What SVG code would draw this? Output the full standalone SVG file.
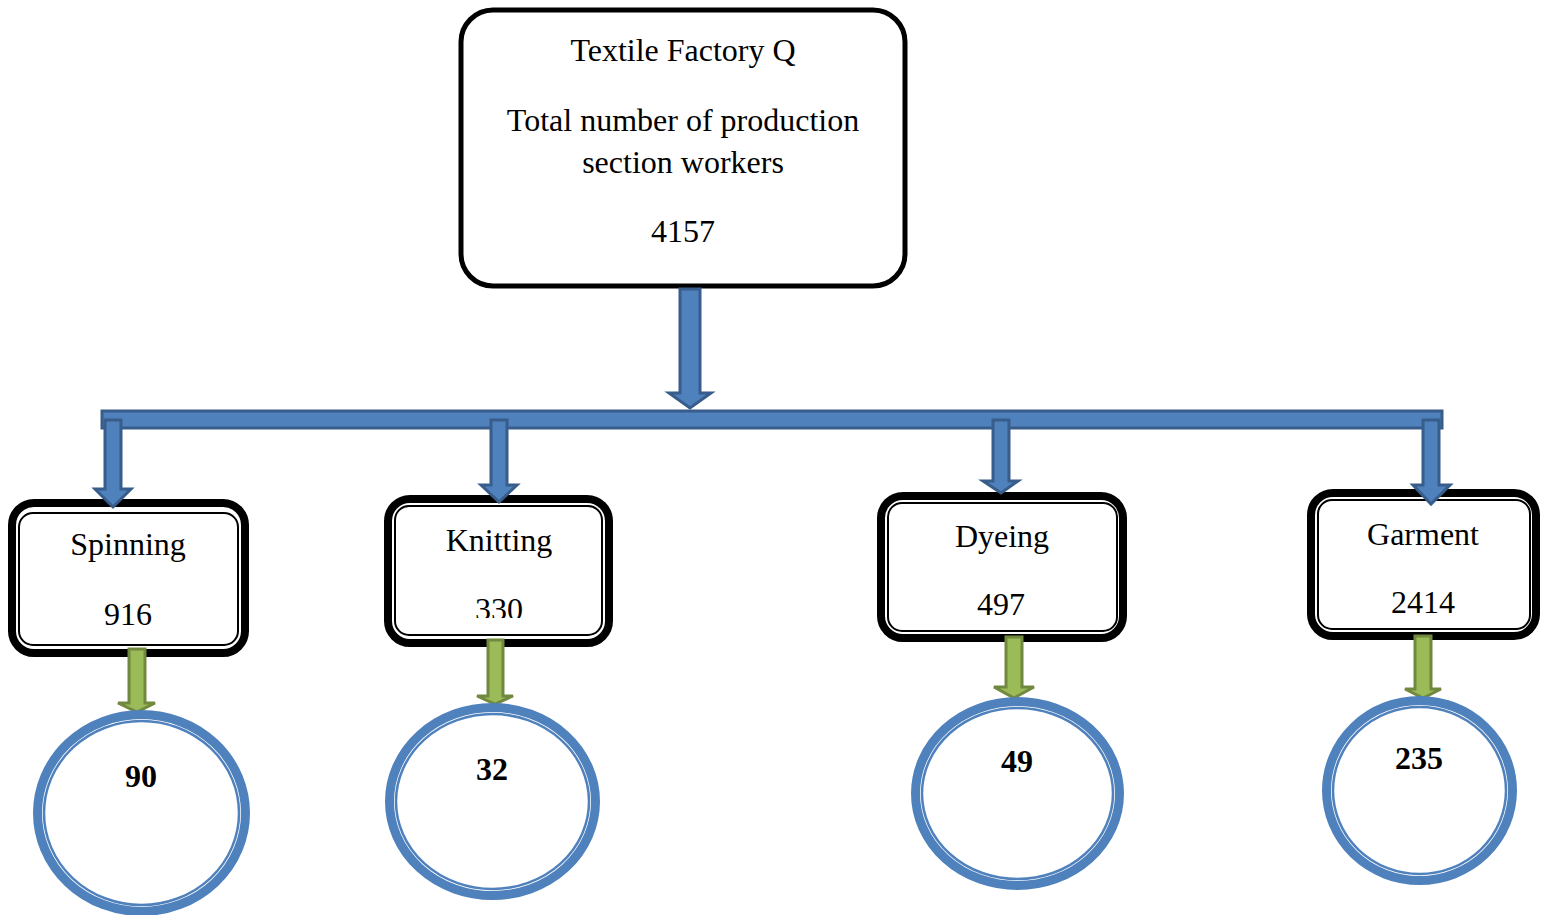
<svg xmlns="http://www.w3.org/2000/svg" width="1545" height="915" viewBox="0 0 1545 915">
<style>
text{font-family:"Liberation Serif","Times New Roman",serif;fill:#000;text-anchor:middle}
.t{font-size:32px}
.b{font-size:32px;font-weight:bold}
.outer{fill:#fff;stroke:#000;stroke-width:8}
.inner{fill:none;stroke:#000;stroke-width:2}
.blue{fill:#4F81BD;stroke:#385D8A;stroke-width:3;stroke-linejoin:miter}
.green{fill:#9BBB59;stroke:#71893F;stroke-width:3}
.ring{fill:#fff;stroke:#4F81BD;stroke-width:9}
.ring2{fill:none;stroke:#4F81BD;stroke-width:2.5}
</style>
<defs>
<clipPath id="clipK"><rect x="390" y="500" width="220" height="118"/></clipPath>
</defs>
<rect width="1545" height="915" fill="#fff"/>

<g id="top">
<rect x="461" y="10" width="444" height="276" rx="32" fill="#fff" stroke="#000" stroke-width="5"/>
<text class="t" x="683" y="61">Textile Factory Q</text>
<text class="t" x="683" y="131">Total number of production</text>
<text class="t" x="683" y="173">section workers</text>
<text class="t" x="683" y="242">4157</text>
</g>

<g id="spinning">
<rect class="outer" x="12" y="503" width="233" height="150" rx="22"/>
<rect class="inner" x="19" y="513" width="219" height="132" rx="14"/>
<text class="t" x="128" y="555">Spinning</text>
<text class="t" x="128" y="625">916</text>
</g>

<g id="knitting">
<rect class="outer" x="388" y="499" width="221" height="144" rx="22"/>
<rect class="inner" x="395" y="506" width="207" height="129" rx="14"/>
<text class="t" x="499" y="551">Knitting</text>
<text class="t" x="499" y="620" clip-path="url(#clipK)">330</text>
</g>

<g id="dyeing">
<rect class="outer" x="881" y="496" width="242" height="142" rx="22"/>
<rect class="inner" x="888" y="503" width="229" height="128" rx="14"/>
<text class="t" x="1002" y="547">Dyeing</text>
<text class="t" x="1001" y="615">497</text>
</g>

<g id="garment">
<rect class="outer" x="1311" y="493" width="225" height="143" rx="22"/>
<rect class="inner" x="1318" y="500" width="212" height="129" rx="14"/>
<text class="t" x="1423" y="545">Garment</text>
<text class="t" x="1423" y="613">2414</text>
</g>

<g id="connectors">
<rect class="blue" x="102" y="411" width="1340" height="17"/>
<polygon class="blue" points="680,289 700,289 700,393 711,393 690,408 669,393 680,393"/>
<polygon class="blue" points="105,420 121,420 121,489 131,489 113,507 95,489 105,489"/>
<polygon class="blue" points="491,420 507,420 507,485 517,485 499,502 481,485 491,485"/>
<polygon class="blue" points="993,420 1009,420 1009,481 1018,481 1001,493 983,481 993,481"/>
<polygon class="blue" points="1423,420 1439,420 1439,485 1450,485 1431,504 1413,485 1423,485"/>
<polygon class="green" points="129,649 145,649 145,703 155,703 137,712 118,703 129,703"/>
<polygon class="green" points="488,640 503,640 503,696 513,696 495,704 477,696 488,696"/>
<polygon class="green" points="1006,637 1022,637 1022,687 1034,687 1014,698 994,687 1006,687"/>
<polygon class="green" points="1415,636 1431,636 1431,689 1441,689 1423,698 1405,689 1415,689"/>
</g>

<g id="c90">
<ellipse class="ring" cx="141.5" cy="813" rx="104" ry="98.5"/>
<ellipse class="ring2" cx="141.5" cy="813" rx="97.5" ry="92"/>
<text class="b" x="141" y="787">90</text>
</g>
<g id="c32">
<ellipse class="ring" cx="492.5" cy="801.5" rx="103" ry="94"/>
<ellipse class="ring2" cx="492.5" cy="801.5" rx="96.5" ry="87.5"/>
<text class="b" x="492" y="780">32</text>
</g>
<g id="c49">
<ellipse class="ring" cx="1017.5" cy="793.5" rx="102" ry="92"/>
<ellipse class="ring2" cx="1017.5" cy="793.5" rx="95.5" ry="85.5"/>
<text class="b" x="1017" y="772">49</text>
</g>
<g id="c235">
<ellipse class="ring" cx="1419.5" cy="790.5" rx="93" ry="90"/>
<ellipse class="ring2" cx="1419.5" cy="790.5" rx="86.5" ry="83.5"/>
<text class="b" x="1419" y="769">235</text>
</g>
</svg>
